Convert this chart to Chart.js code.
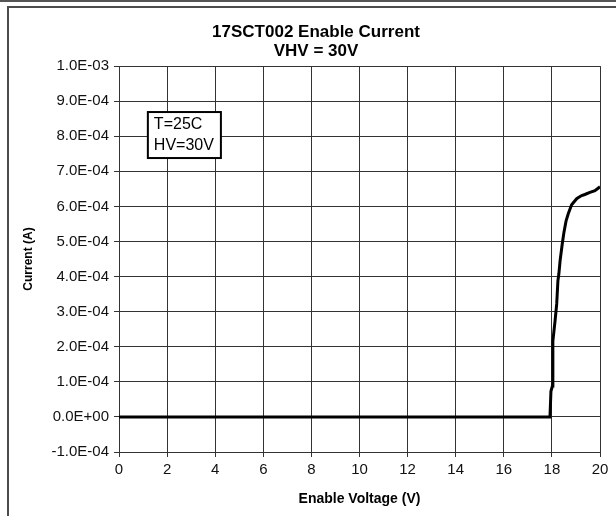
<!DOCTYPE html>
<html>
<head>
<meta charset="utf-8">
<script src="https://cdn.jsdelivr.net/npm/chart.js@4.4.1/dist/chart.umd.min.js"></script>
<style>
  html, body { margin: 0; padding: 0; background: #fff; }
  #wrap { position: relative; width: 616px; height: 516px; overflow: hidden; }
  #topRule { position: absolute; left: 0; top: 0; width: 616px; height: 2px; background: #555; }
  #frame { position: absolute; left: 7px; top: 6px; width: 620px; height: 520px;
           border-left: 2px solid #4c4c4c; border-top: 2px solid #4c4c4c; }
  canvas { position: absolute; left: 0; top: 0; }
</style>
</head>
<body>
<div id="wrap">
  <div id="topRule"></div>
  <div id="frame"></div>
  <canvas id="chart" width="616" height="516"></canvas>
</div>
<script>
// enable voltage (V) and measured current (A)
const voltage = [0, 2, 4, 6, 8, 10, 12, 14, 16, 17.92, 17.96, 18.02, 18.04, 18.13, 18.2, 18.25,
  18.29, 18.34, 18.43, 18.5, 18.59, 18.68, 18.82, 19.03, 19.12, 19.24, 19.37, 19.58, 19.79, 20.0];
const current = [0, 0, 0, 0, 0, 0, 0, 0, 0, 0, 0.73e-4, 0.88e-4, 2.16e-4, 2.73e-4, 3.22e-4, 3.88e-4,
  4.08e-4, 4.45e-4, 4.93e-4, 5.26e-4, 5.59e-4, 5.79e-4, 6.05e-4, 6.22e-4, 6.26e-4, 6.31e-4, 6.34e-4, 6.40e-4, 6.45e-4, 6.56e-4];

const xTicks = [0, 2, 4, 6, 8, 10, 12, 14, 16, 18, 20];
const yTicks = [-1e-4, 0, 1e-4, 2e-4, 3e-4, 4e-4, 5e-4, 6e-4, 7e-4, 8e-4, 9e-4, 1e-3];

const titleLines = ['17SCT002 Enable Current', 'VHV = 30V'];
const noteLines = ['T=25C', 'HV=30V'];
const noteAt = { x: 1.2, y: 8.69e-4 }; // top-left of the note box, in data units

const FONT = '"Liberation Sans", Arial, sans-serif';
const GRID = '#333';

function sci(v) {
  if (v === 0) return '0.0E+00';
  const parts = v.toExponential(1).split('e');
  const n = parseInt(parts[1], 10);
  return parts[0] + 'E' + (n < 0 ? '-' : '+') + String(Math.abs(n)).padStart(2, '0');
}

// text box with the test conditions
const notePlugin = {
  id: 'note',
  afterDatasetsDraw(chart) {
    const { ctx, scales } = chart;
    const x0 = scales.x.getPixelForValue(noteAt.x);
    const y0 = scales.y.getPixelForValue(noteAt.y);
    ctx.save();
    ctx.font = '16px ' + FONT;
    const pad = 6, lh = 21;
    const w = Math.max(...noteLines.map(t => ctx.measureText(t).width)) + pad * 2 + 1;
    const h = noteLines.length * lh + 4;
    ctx.fillStyle = '#fff';
    ctx.fillRect(x0, y0, w, h);
    ctx.lineWidth = 2;
    ctx.strokeStyle = '#000';
    ctx.strokeRect(x0, y0, w, h);
    ctx.fillStyle = '#000';
    ctx.textBaseline = 'middle';
    noteLines.forEach((t, i) => ctx.fillText(t, x0 + pad, y0 + 2 + lh * i + lh / 2));
    ctx.restore();
  }
};

// shift the title so it sits where the original had it
const titleShift = {
  id: 'titleShift',
  afterLayout(chart) {
    const t = chart.titleBlock;
    if (t) t.left = 2 * 316 - t.right;
  }
};

new Chart(document.getElementById('chart'), {
  type: 'line',
  data: {
    datasets: [{
      data: voltage.map((v, i) => ({ x: v, y: current[i] })),
      borderColor: '#000',
      borderWidth: 3,
      pointRadius: 0,
      tension: 0,
      fill: false
    }]
  },
  options: {
    responsive: false,
    animation: false,
    devicePixelRatio: 1,
    layout: { padding: { top: 0, right: 16, bottom: 0, left: 0 } },
    plugins: {
      legend: { display: false },
      tooltip: { enabled: false },
      title: {
        display: true,
        text: titleLines,
        color: '#000',
        font: { family: FONT, size: 17, weight: 'bold', lineHeight: 1.12 },
        padding: { top: 23, bottom: 5 }
      }
    },
    scales: {
      x: {
        type: 'linear',
        min: 0, max: 20,
        afterBuildTicks: s => { s.ticks = xTicks.map(v => ({ value: v })); },
        afterFit: s => { s.height = 64; },
        grid: { color: GRID, lineWidth: 1, tickLength: 5, drawTicks: true },
        border: { color: GRID, width: 1 },
        ticks: { color: '#111', padding: 4, maxRotation: 0, font: { family: FONT, size: 15 } },
        title: {
          display: true, text: 'Enable Voltage (V)', color: '#000',
          font: { family: FONT, size: 14, weight: 'bold' },
          padding: { top: 0, bottom: 8 }
        }
      },
      y: {
        type: 'linear',
        min: -1e-4, max: 1e-3,
        afterBuildTicks: s => { s.ticks = yTicks.map(v => ({ value: v })); },
        afterFit: s => { s.width = 119; },
        grid: { color: GRID, lineWidth: 1, tickLength: 5, drawTicks: true },
        border: { color: GRID, width: 1 },
        ticks: { color: '#111', padding: 5, font: { family: FONT, size: 15 }, callback: v => sci(v) },
        title: {
          display: true, text: 'Current (A)', color: '#000',
          font: { family: FONT, size: 12, weight: 'bold' },
          padding: { top: 21, bottom: 0 }
        }
      }
    }
  },
  plugins: [notePlugin, titleShift]
});
</script>
</body>
</html>
